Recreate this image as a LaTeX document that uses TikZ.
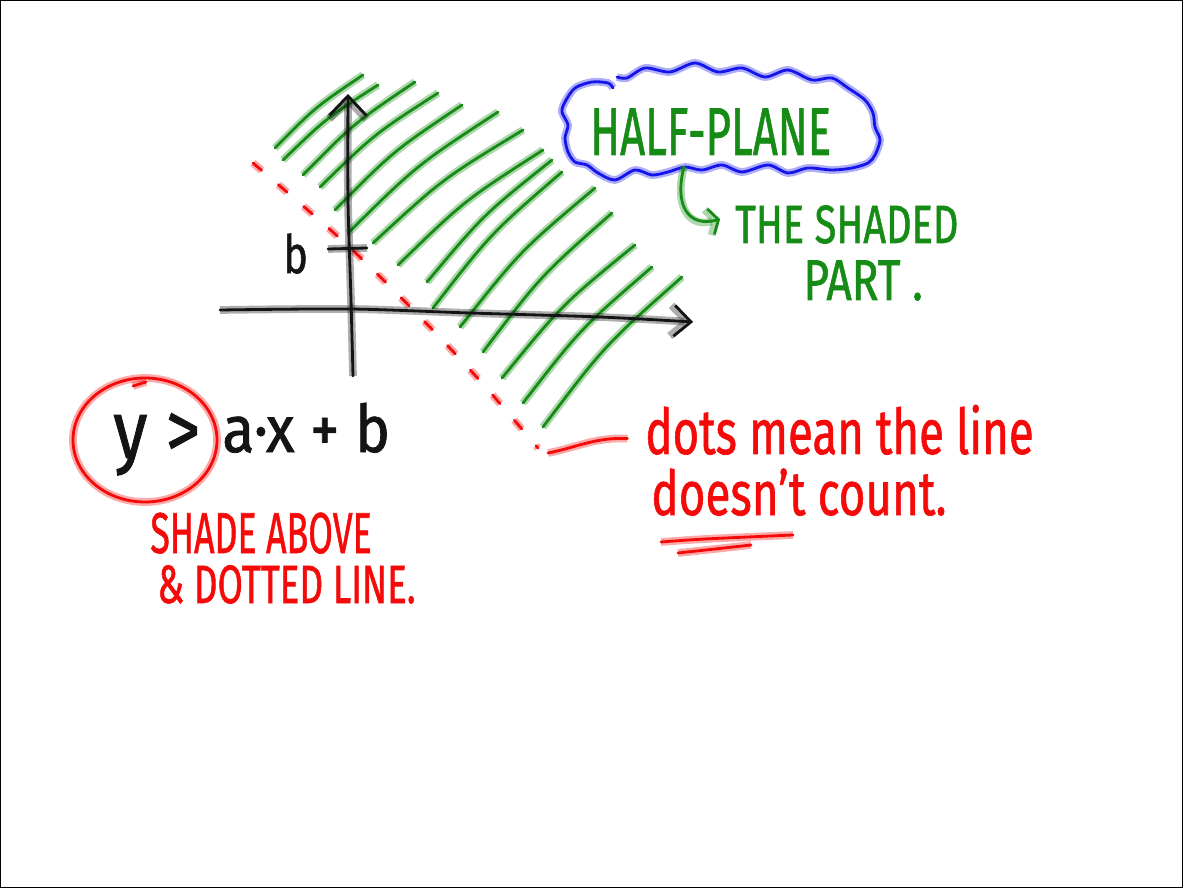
\documentclass[tikz,border=0pt]{standalone}
\usepackage{fontspec}
\setmainfont{Fira Sans}[UprightFeatures={FakeBold=1.2}]
\usepackage{graphicx}
\usetikzlibrary{arrows.meta,calc}
\definecolor{penGreen}{RGB}{22,140,22}
\definecolor{penBlue}{RGB}{20,20,235}
\definecolor{penRed}{RGB}{245,10,10}
\definecolor{penBlack}{RGB}{20,20,20}
\newcommand{\hand}[3]{\resizebox{#1}{#2}{#3}}

\begin{document}
\begin{tikzpicture}[x=0.02cm,y=-0.02cm,
  ink/.style={draw=#1,line width=1.6pt,line cap=round,line join=round,
    preaction={draw=#1,draw opacity=0.35,line width=4.4pt}},
  dotink/.style={draw=#1,line width=1.6pt,line cap=round,dash pattern=on 6.5pt off 12.5pt,
    preaction={draw=#1,draw opacity=0.35,line width=4.4pt,dash pattern=on 6.5pt off 12.5pt}},
  word/.style={inner sep=0pt,anchor=base west,text=#1}]
  \useasboundingbox (0,0) rectangle (1183,888);
  \draw[line width=1.4pt] (0,0) rectangle (1183,888);

  % shaded part
  \foreach \xa/\ya/\xb/\yb in {275/148/363/75, 283/160/378/85, 303/175/415/82,
      320/187/438/93, 335/210/462/105, 348/233/498/112, 373/243/523/130,
      398/265/543/150, 427/282/552/160, 433/308/562/172, 460/327/595/188,
      483/352/612/213, 502/378/635/245, 523/403/652/267, 543/427/682/277}
    \draw[ink=penGreen] (\xa,\ya) .. controls
      ({(\xa+\xb)/2+0.05*(\yb-\ya)},{(\ya+\yb)/2-0.05*(\xb-\xa)}) .. (\xb,\yb);

  % boundary line, not counted
  \draw[dotink=penRed]
    plot[smooth] coordinates {(253,163) (345,243) (423,320) (482,383) (538,448)};
  \coordinate (lineend) at (548,453);

  % axes
  \draw[ink=penBlack,-{Straight Barb[length=9.5pt,width=17.5pt]}]
    plot[smooth] coordinates {(220,310) (350,309) (470,313) (600,317) (693,322)};
  \draw[ink=penBlack,-{Straight Barb[length=11pt,width=21pt]}]
    plot[smooth] coordinates {(353,376) (351,300) (348,200) (348,94)};
  \draw[ink=penBlack] (328,249) -- (367,248);
  \node[word=penBlack] (blabel) at (283,273) {\hand{14pt}{22.5pt}{b}};

  % cloud
  \draw[ink=penBlue] plot[smooth] coordinates {
    (617,77) (627,78) (645,68) (670,72) (695,63) (718,72) (742,68) (765,77)
    (788,70) (812,80) (832,78) (848,88) (865,100) (873,113) (875,127) (880,140)
    (875,155) (868,163) (852,168) (832,170) (808,168) (788,173) (768,165)
    (742,172) (722,165) (702,170) (685,167) (668,172) (652,175) (635,170)
    (615,180) (598,173) (587,165) (575,162) (568,152) (565,138) (568,125)
    (562,112) (565,102) (575,88) (592,82) (608,83) (613,88)};
  \coordinate (cloudfoot) at (684,167);
  \node[word=penGreen] (halfplane) at (590,155) {\hand{137pt}{26.5pt}{HALF-PLANE}};
  \node[word=penGreen] (shaded) at (735,243) {\hand{127pt}{21.5pt}{THE SHADED}};
  \node[word=penGreen] (part) at (803,300) {\hand{68pt}{22.5pt}{PART .}};
  \draw[ink=penGreen,-{Straight Barb[length=4.5pt,width=15pt]}]
    (cloudfoot) .. controls (674,205) and (688,228) .. ([xshift=-8.5pt,yshift=3pt]shaded.west);

  % inequality
  \draw[ink=penRed] (145,440) ellipse [x radius=72, y radius=62];
  \draw[ink=penRed] (133,386) -- (146,382);
  \node[word=penBlack] (ygt) at (113,458) {\hand{49.5pt}{25.5pt}{y >}};
  \node[word=penBlack] (axb) at (222,452) {\hand{95.5pt}{28pt}{a·x + b}};
  \node[word=penRed] (shadeabove) at (150,553) {\hand{126pt}{23pt}{SHADE ABOVE}};
  \node[word=penRed] (dottedline) at (157,603) {\hand{147pt}{21.5pt}{\& DOTTED LINE.}};

  % note on the dots
  \node[word=penRed] (dots) at (645,454) {\hand{221pt}{28pt}{dots mean the line}};
  \node[word=penRed] (count) at (651,515) {\hand{168pt}{26.5pt}{doesn't count.}};
  \draw[ink=penRed] (lineend) .. controls (575,448) and (595,437) .. ([xshift=-10pt,yshift=-5pt]dots.west);
  \draw[ink=penRed] plot[smooth] coordinates {(661,542) (705,539) (793,535)};
  \draw[ink=penRed] plot[smooth] coordinates {(678,553) (715,549) (751,545)};
\end{tikzpicture}
\end{document}
